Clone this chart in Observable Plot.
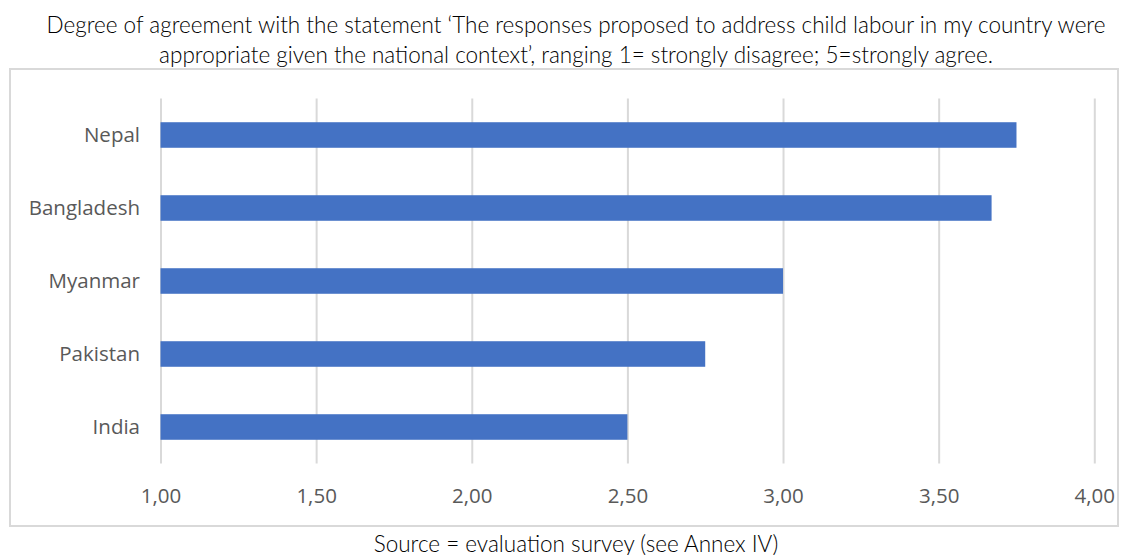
<!DOCTYPE html>
<html>
<head>
<meta charset="utf-8">
<script src="https://cdn.jsdelivr.net/npm/d3@7"></script>
<script src="https://cdn.jsdelivr.net/npm/@observablehq/plot@0.6"></script>
<style>
  html, body { margin: 0; padding: 0; background: #fff; width: 1132px; height: 555px; overflow: hidden; }
  #title { position: absolute; left: 10px; top: 10px; width: 1132px; text-align: center;
    font-family: Lato, "Open Sans", sans-serif; font-weight: 300; font-size: 22.5px; line-height: 30px; color: #000; }
  #box { position: absolute; left: 9px; top: 68px; width: 1110px; height: 459px;
    border: 2px solid #d9d9d9; box-sizing: border-box; }
  #box svg { display: block; }
  #source { position: absolute; left: 10px; top: 531px; width: 1132px; text-align: center;
    font-family: Lato, "Open Sans", sans-serif; font-weight: 300; font-size: 22.5px; line-height: 26px; color: #000; }
</style>
</head>
<body>
<div id="title">Degree of agreement with the statement ‘The responses proposed to address child labour in my country were<br>appropriate given the national context’, ranging 1= strongly disagree; 5=strongly agree.</div>
<div id="box"></div>
<div id="source">Source = evaluation survey (see Annex IV)</div>
<script>
const countries = ["Nepal", "Bangladesh", "Myanmar", "Pakistan", "India"];
const scores = [3.75, 3.67, 3.00, 2.75, 2.50];
const xTicks = [1.0, 1.5, 2.0, 2.5, 3.0, 3.5, 4.0];
const xDomain = [1, 4];

const data = countries.map((c, i) => ({country: c, score: scores[i]}));
const fmt = v => v.toFixed(2).replace(".", ",");

const chart = Plot.plot({
  width: 1106,
  height: 455,
  marginLeft: 149.5,
  marginRight: 22.7,
  marginTop: 28.5,
  marginBottom: 61.5,
  style: {fontFamily: "'Open Sans', sans-serif", fontSize: "20.5px", color: "#595959", background: "#fff"},
  x: {domain: xDomain, ticks: xTicks, tickFormat: fmt, label: null, tickSize: 0, tickPadding: 25},
  y: {domain: countries, label: null, tickSize: 0, tickPadding: 21, paddingInner: 0.65, paddingOuter: 0.325, round: false},
  marks: [
    Plot.ruleX(xTicks, {stroke: "#d9d9d9", strokeWidth: 2}),
    Plot.barX(data, {y: "country", x1: xDomain[0], x2: "score", fill: "#4472C4"}),
    Plot.axisX({ticks: xTicks, tickFormat: fmt, tickSize: 0, tickPadding: 24, fill: "#595959", label: null}),
    Plot.axisY({tickSize: 0, tickPadding: 21, fill: "#595959", label: null})
  ]
});
document.getElementById("box").appendChild(chart);
</script>
</body>
</html>
